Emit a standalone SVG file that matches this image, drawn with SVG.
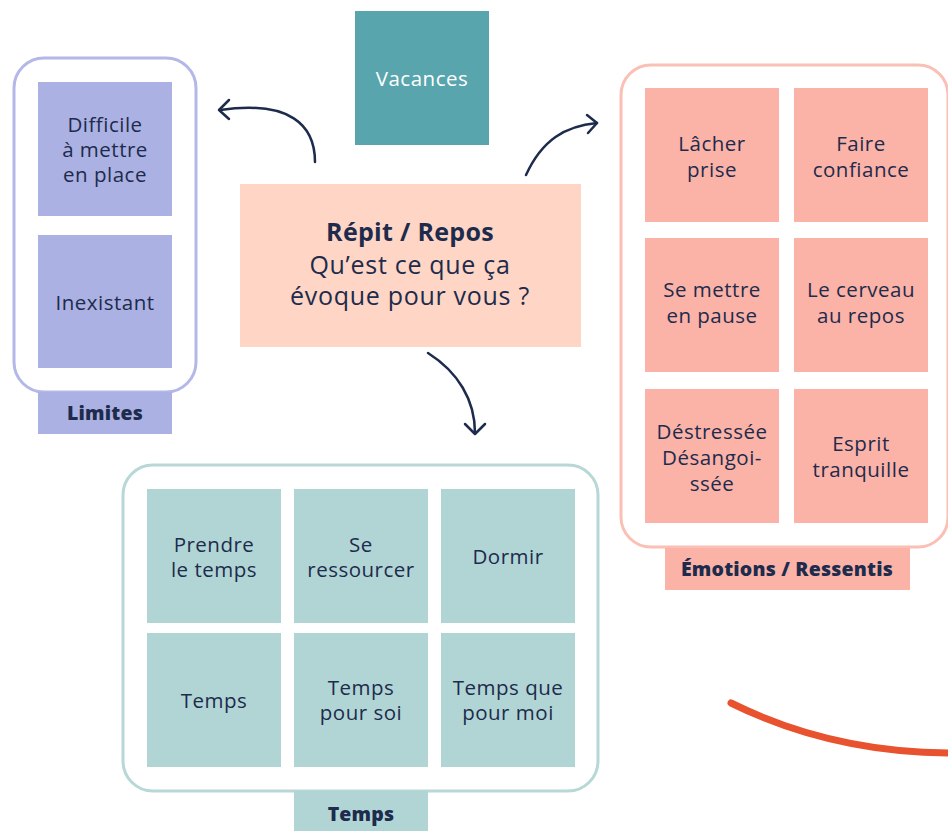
<svg xmlns="http://www.w3.org/2000/svg" width="948" height="831" viewBox="0 0 948 831">
<defs>
<style>
.t{font-family:"Open Sans","Noto Sans","Liberation Sans",sans-serif;font-size:20.5px;letter-spacing:0.5px;fill:#1d2b4c;text-anchor:middle}
.b{font-weight:800;font-size:19.5px;letter-spacing:0.2px}
.c{font-size:25px;letter-spacing:0.7px}
.lav{fill:#abb1e2}
.pink{fill:#fbb2a7}
.teal{fill:#b1d5d5}
.conn{fill:none;stroke:#1d2b4c;stroke-width:2.5;stroke-linecap:round;stroke-linejoin:round}
</style>
</defs>
<rect width="948" height="831" fill="#ffffff"/>

<g id="limites">
<rect x="14" y="58" width="182" height="334" rx="30" fill="#ffffff" stroke="#b3b8e8" stroke-width="3"/>
<rect class="lav" x="38" y="82" width="134" height="134"/>
<text class="t" x="105" y="132">Difficile</text>
<text class="t" x="105" y="157">à mettre</text>
<text class="t" x="105" y="182">en place</text>
<rect class="lav" x="38" y="235" width="134" height="133"/>
<text class="t" x="105" y="310">Inexistant</text>
<rect class="lav" x="38" y="392" width="134" height="42"/>
<text class="t b" x="105" y="420">Limites</text>
</g>

<g id="vacances">
<rect x="355" y="11" width="134" height="134" fill="#58a5ad"/>
<text class="t" x="422" y="86" style="fill:#ffffff">Vacances</text>
</g>

<g id="central">
<rect x="240" y="184" width="341" height="163" fill="#ffd5c5"/>
<text class="t c" x="410" y="241" style="font-weight:700;letter-spacing:0.3px">Répit / Repos</text>
<text class="t c" x="410" y="274">Qu’est ce que ça</text>
<text class="t c" x="410" y="305">évoque pour vous ?</text>
</g>

<g id="emotions">
<rect x="621" y="65" width="327" height="482" rx="30" fill="#ffffff" stroke="#fbc0b5" stroke-width="3"/>
<rect class="pink" x="645" y="88" width="134" height="134"/>
<text class="t" x="712" y="151">Lâcher</text>
<text class="t" x="712" y="177">prise</text>
<rect class="pink" x="794" y="88" width="134" height="134"/>
<text class="t" x="861" y="151">Faire</text>
<text class="t" x="861" y="177">confiance</text>
<rect class="pink" x="645" y="238" width="134" height="134"/>
<text class="t" x="712" y="297">Se mettre</text>
<text class="t" x="712" y="323">en pause</text>
<rect class="pink" x="794" y="238" width="134" height="134"/>
<text class="t" x="861" y="297">Le cerveau</text>
<text class="t" x="861" y="323">au repos</text>
<rect class="pink" x="645" y="389" width="134" height="134"/>
<text class="t" x="712" y="439">Déstressée</text>
<text class="t" x="712" y="465">Désangoi-</text>
<text class="t" x="712" y="491">ssée</text>
<rect class="pink" x="794" y="389" width="134" height="134"/>
<text class="t" x="861" y="451">Esprit</text>
<text class="t" x="861" y="477">tranquille</text>
<rect class="pink" x="665" y="548" width="245" height="42"/>
<text class="t b" x="787" y="576">Émotions / Ressentis</text>
</g>

<g id="temps">
<rect x="123" y="465" width="475" height="326" rx="30" fill="#ffffff" stroke="#b8d8d8" stroke-width="3"/>
<rect class="teal" x="147" y="489" width="134" height="134"/>
<text class="t" x="214" y="552">Prendre</text>
<text class="t" x="214" y="577">le temps</text>
<rect class="teal" x="294" y="489" width="134" height="134"/>
<text class="t" x="361" y="552">Se</text>
<text class="t" x="361" y="577">ressourcer</text>
<rect class="teal" x="441" y="489" width="134" height="134"/>
<text class="t" x="508" y="564">Dormir</text>
<rect class="teal" x="147" y="633" width="134" height="134"/>
<text class="t" x="214" y="708">Temps</text>
<rect class="teal" x="294" y="633" width="134" height="134"/>
<text class="t" x="361" y="695">Temps</text>
<text class="t" x="361" y="720">pour soi</text>
<rect class="teal" x="441" y="633" width="134" height="134"/>
<text class="t" x="508" y="695">Temps que</text>
<text class="t" x="508" y="720">pour moi</text>
<rect class="teal" x="294" y="791" width="134" height="40"/>
<text class="t b" x="361" y="821">Temps</text>
</g>

<g id="connectors">
<path class="conn" d="M315,162 C315,125 290,100 220,110"/>
<path class="conn" d="M229,100 L219,110 L229,119"/>
<path class="conn" d="M526,175 C542,140 565,126 597,123"/>
<path class="conn" d="M587,115 L597,123 L588,133"/>
<path class="conn" d="M428,353 C458,372 475,400 475,433"/>
<path class="conn" d="M465,424 L475,434 L485,424"/>
<path d="M731,703 Q830,752 948,753" fill="none" stroke="#e8522f" stroke-width="7" stroke-linecap="round"/>
</g>
</svg>
